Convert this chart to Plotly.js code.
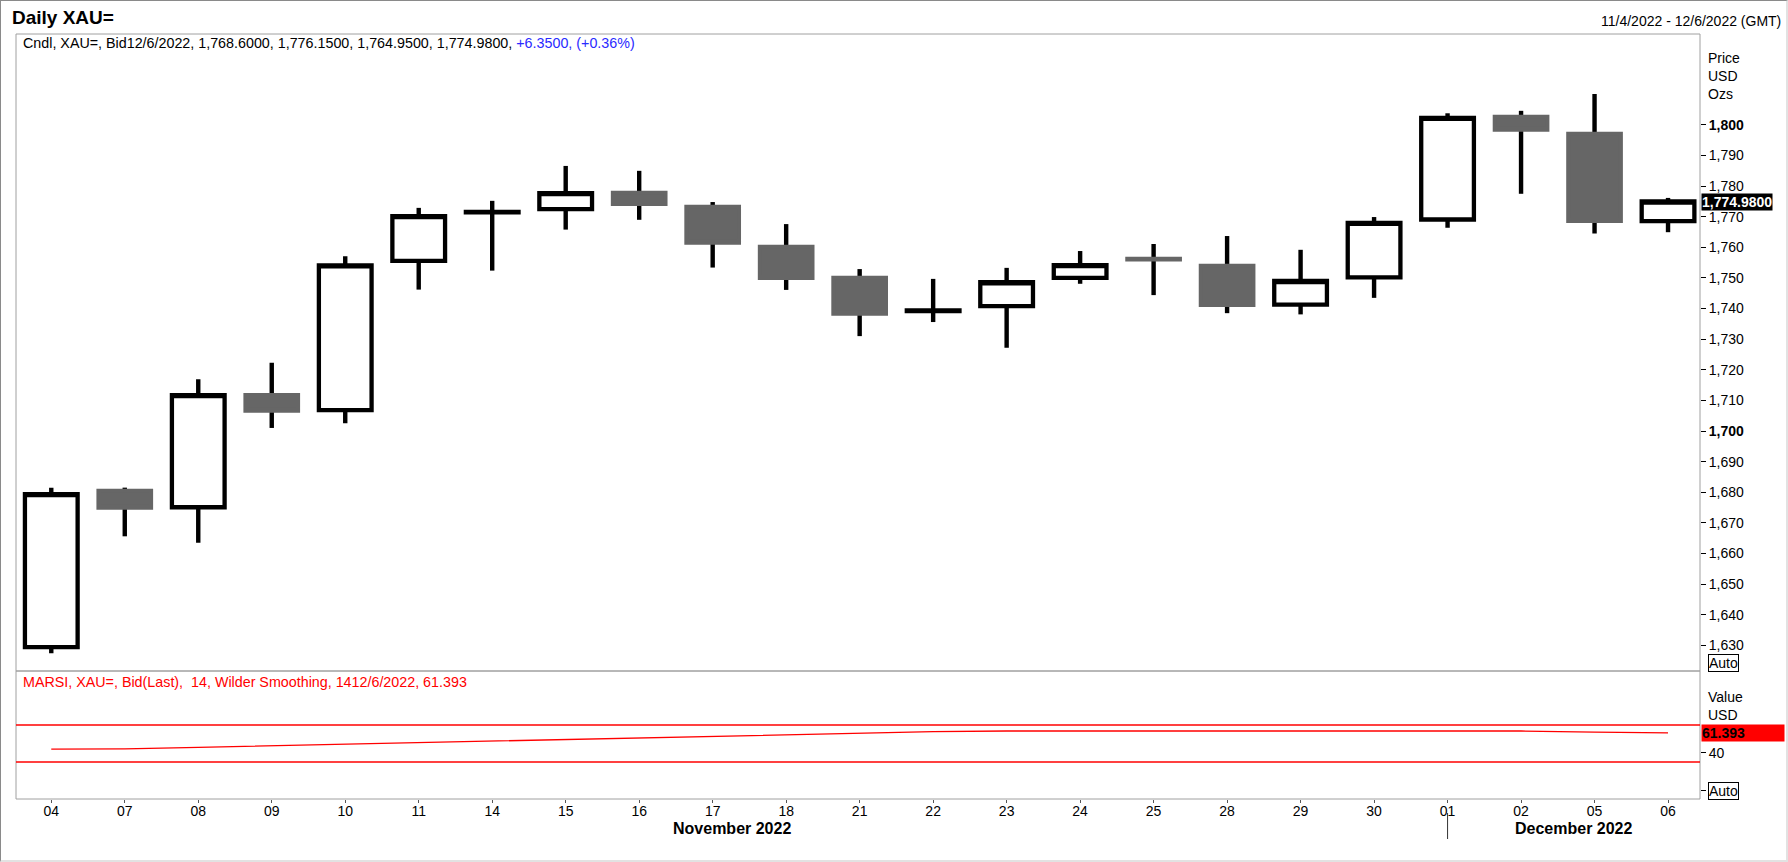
<!DOCTYPE html>
<html>
<head>
<meta charset="utf-8">
<script src="https://cdn.plot.ly/plotly-3.0.1.min.js"></script>
<style>
  html, body { margin: 0; padding: 0; background: #fff; }
  #wrap { position: relative; width: 1788px; height: 862px; }
  #chart { position: absolute; left: 0; top: 0; width: 1788px; height: 862px; }
  #frame { position: absolute; left: 0; top: 0; width: 1788px; height: 862px; box-sizing: border-box;
           border-top: 1px solid #8a8a8a; border-left: 1px solid #8a8a8a;
           border-right: 2px solid #e2e2e2; border-bottom: 2px solid #e2e2e2; pointer-events: none; }
</style>
</head>
<body>
<div id="wrap"><div id="chart"></div><div id="frame"></div></div>
<script>
// ---------- data ----------
const dates = ['2022-11-04','2022-11-07','2022-11-08','2022-11-09','2022-11-10','2022-11-11','2022-11-14',
  '2022-11-15','2022-11-16','2022-11-17','2022-11-18','2022-11-21','2022-11-22','2022-11-23','2022-11-24',
  '2022-11-25','2022-11-28','2022-11-29','2022-11-30','2022-12-01','2022-12-02','2022-12-05','2022-12-06'];
const dayLabels = ['04','07','08','09','10','11','14','15','16','17','18','21','22','23','24','25','28','29','30','01','02','05','06'];
const openP  = [1629.4, 1680.5, 1675.1, 1711.8, 1706.8, 1755.6, 1771.4, 1772.5, 1777.8, 1773.3, 1760.2, 1750.1,
  1739.2, 1740.8, 1750.0, 1756.3, 1754.0, 1741.3, 1750.2, 1769.1, 1802.7, 1797.1, 1768.60];
const highP  = [1681.5, 1681.5, 1716.9, 1722.3, 1757.1, 1772.9, 1775.2, 1786.6, 1785.0, 1774.8, 1767.6, 1752.9,
  1749.7, 1753.3, 1758.8, 1761.1, 1763.7, 1759.2, 1769.9, 1803.8, 1804.6, 1810.1, 1776.15];
const lowP   = [1627.4, 1665.6, 1663.5, 1701.0, 1702.5, 1746.2, 1752.4, 1765.8, 1769.0, 1753.4, 1746.1, 1731.0,
  1735.6, 1727.2, 1748.1, 1744.4, 1738.5, 1738.1, 1743.5, 1766.4, 1777.5, 1764.5, 1764.95];
const closeP = [1679.4, 1674.9, 1711.7, 1706.6, 1754.1, 1770.2, 1771.6, 1777.7, 1774.2, 1761.5, 1750.0, 1738.3,
  1739.4, 1748.6, 1754.2, 1756.0, 1741.2, 1749.0, 1768.0, 1802.3, 1798.4, 1768.63, 1774.98];
const rsiVals = [44.0, 44.2, 45.8, 47.5, 49.2, 50.9, 52.6, 54.3, 56.0, 57.7, 59.4, 61.1, 62.8, 63.5, 63.5,
  63.5, 63.5, 63.5, 63.5, 63.5, 63.5, 62.4, 61.393];
const priceTicks = [1630, 1640, 1650, 1660, 1670, 1680, 1690, 1700, 1710, 1720, 1730, 1740, 1750, 1760, 1770, 1780, 1790, 1800];
const priceTickText = ['1,630','1,640','1,650','1,660','1,670','1,680','1,690','<b>1,700</b>','1,710','1,720',
  '1,730','1,740','1,750','1,760','1,770','1,780','1,790','<b>1,800</b>'];
const rsiTicks = [40, -1.1];
const rsiTickText = ['40', ''];
const rsiLevels = [70, 30];
const monthNames = ['November 2022', 'December 2022'];

// ---------- geometry ----------
const W = 1788, H = 862;
const M = {l: 16, r: 88, t: 34, b: 63};
const plotW = W - M.l - M.r, plotH = H - M.t - M.b;
const px = x => (x - M.l) / plotW;
const py = y => (H - M.b - y) / plotH;
const splitY = py(671);
const xRange = [-0.48, dates.length - 1 + 0.435];

function fmt(n, d) {
  const s = Math.abs(n).toFixed(d).split('.');
  s[0] = s[0].replace(/\B(?=(\d{3})+(?!\d))/g, ',');
  return (n < 0 ? '-' : '') + s.join('.');
}
const last = dates.length - 1;
const chg = closeP[last] - closeP[last - 1];
const pct = chg / closeP[last - 1] * 100;
const dParts = dates[last].split('-');
const lastDate = (+dParts[1]) + '/' + (+dParts[2]) + '/' + dParts[0];
const fParts = dates[0].split('-');
const firstDate = (+fParts[1]) + '/' + (+fParts[2]) + '/' + fParts[0];

const bodyHigh = openP.map((o, i) => Math.max(o, closeP[i]));
const bodyLow = openP.map((o, i) => Math.min(o, closeP[i]));
const wickLen = highP.map((h, i) => h - lowP[i]);

const FONT = 'Arial, "Liberation Sans", sans-serif';

const traces = [
  { // wicks (drawn beneath bodies)
    type: 'bar', x: dates, y: wickLen, base: lowP, width: 0.06,
    xaxis: 'x', yaxis: 'y', marker: {color: '#000', line: {width: 0}},
    hoverinfo: 'skip', showlegend: false
  },
  { // bodies
    type: 'candlestick', x: dates, open: openP, high: bodyHigh, low: bodyLow, close: closeP,
    xaxis: 'x', yaxis: 'y', whiskerwidth: 0, showlegend: false, hoverinfo: 'skip',
    increasing: {line: {color: '#000', width: 4.3}, fillcolor: '#ffffff'},
    decreasing: {line: {color: '#666666', width: 4}, fillcolor: '#666666'}
  },
  {
    type: 'scatter', mode: 'lines', x: dates, y: rsiVals, xaxis: 'x', yaxis: 'y2',
    line: {color: '#ff0000', width: 1.3}, showlegend: false, hoverinfo: 'skip'
  }
];

const decIdx = dates.findIndex(d => d.slice(5, 7) === '12');

const shapes = [
  {type: 'rect', xref: 'paper', yref: 'paper', x0: 0, x1: 1, y0: splitY, y1: 1, line: {color: '#a0a0a0', width: 1}},
  {type: 'rect', xref: 'paper', yref: 'paper', x0: 0, x1: 1, y0: 0, y1: splitY, line: {color: '#a0a0a0', width: 1}},
  {type: 'line', xref: 'x', yref: 'paper', x0: decIdx, x1: decIdx, y0: py(813), y1: py(839), line: {color: '#333', width: 1}}
].concat(rsiLevels.map(v => ({type: 'line', xref: 'paper', yref: 'y2', x0: 0, x1: 1, y0: v, y1: v,
  line: {color: '#ff0000', width: 1.3}})));

const ann = (o) => Object.assign({showarrow: false, xref: 'paper', yref: 'paper', yanchor: 'middle',
  font: {family: FONT, size: 14, color: '#000'}}, o);

const annotations = [
  ann({x: px(10), y: py(17), xanchor: 'left', text: '<b>Daily XAU=</b>', font: {family: FONT, size: 19, color: '#000'}}),
  ann({x: px(1783), y: py(21), xanchor: 'right', text: firstDate + ' - ' + lastDate + ' (GMT)'}),
  ann({x: px(21), y: py(43), xanchor: 'left', font: {family: FONT, size: 14.3, color: '#000'},
    text: 'Cndl, XAU=, Bid' + lastDate + ', ' + fmt(openP[last], 4) + ', ' + fmt(highP[last], 4) + ', ' +
      fmt(lowP[last], 4) + ', ' + fmt(closeP[last], 4) + ', <span style="color:#2a2aff">' +
      (chg >= 0 ? '+' : '') + fmt(chg, 4) + ', (' + (pct >= 0 ? '+' : '') + pct.toFixed(2) + '%)</span>'}),
  ann({x: px(21), y: py(682), xanchor: 'left', font: {family: FONT, size: 14.3, color: '#ff0000'},
    text: 'MARSI, XAU=, Bid(Last),  14, Wilder Smoothing, 14' + lastDate + ', ' + rsiVals[last].toFixed(3)}),
  ann({x: px(1706), y: py(58), xanchor: 'left', text: 'Price'}),
  ann({x: px(1706), y: py(76), xanchor: 'left', text: 'USD'}),
  ann({x: px(1706), y: py(94), xanchor: 'left', text: 'Ozs'}),
  ann({x: px(1706), y: py(697), xanchor: 'left', text: 'Value'}),
  ann({x: px(1706), y: py(715), xanchor: 'left', text: 'USD'}),
  ann({x: px(1708), y: py(663), xanchor: 'left', text: 'Auto', bordercolor: '#000', borderwidth: 1, borderpad: 0}),
  ann({x: px(1708), y: -1.1, yref: 'y2', xanchor: 'left', text: 'Auto', bordercolor: '#000', borderwidth: 1, borderpad: 0}),
  ann({x: px(1701), y: closeP[last], yref: 'y', xanchor: 'left', text: '<b>' + fmt(closeP[last], 4) + '</b>',
    bgcolor: '#000', borderpad: 0, font: {family: FONT, size: 14, color: '#fff'}}),
  ann({x: px(1701), y: rsiVals[last], yref: 'y2', xanchor: 'left', align: 'left', width: 82,
    text: '<b>' + rsiVals[last].toFixed(3) + '</b>', bgcolor: '#ff0000', borderpad: 0,
    font: {family: FONT, size: 14, color: '#000'}}),
  ann({xref: 'x', x: (xRange[0] + decIdx) / 2, y: py(828), xanchor: 'center', text: '<b>' + monthNames[0] + '</b>',
    font: {family: FONT, size: 16, color: '#000'}}),
  ann({xref: 'x', x: (decIdx + xRange[1]) / 2, y: py(828), xanchor: 'center', text: '<b>' + monthNames[1] + '</b>',
    font: {family: FONT, size: 16, color: '#000'}})
];

const layout = {
  width: W, height: H, margin: M,
  paper_bgcolor: '#fff', plot_bgcolor: '#fff',
  showlegend: false, dragmode: false, boxgap: 0.283, boxgroupgap: 0, barmode: 'overlay',
  font: {family: FONT, size: 14, color: '#000'},
  xaxis: {
    type: 'category', range: xRange, anchor: 'y2', rangeslider: {visible: false},
    tickmode: 'array', tickvals: dates, ticktext: dayLabels, ticks: 'outside', ticklen: 3, tickcolor: '#555',
    ticklabelstandoff: -4,
    tickfont: {family: FONT, size: 14, color: '#000'}, showgrid: false, zeroline: false, showline: false,
    fixedrange: true
  },
  yaxis: {
    domain: [splitY, 1], range: [1621.6, 1829.7], side: 'right', anchor: 'x',
    tickmode: 'array', tickvals: priceTicks, ticktext: priceTickText, ticks: 'outside', ticklen: 5, tickcolor: '#000',
    tickfont: {family: FONT, size: 14, color: '#000'}, showgrid: false, zeroline: false, showline: false, fixedrange: true
  },
  yaxis2: {
    domain: [0, splitY], range: [-10, 128.4], side: 'right', anchor: 'x',
    tickmode: 'array', tickvals: rsiTicks, ticktext: rsiTickText, ticks: 'outside', ticklen: 5, tickcolor: '#000',
    tickfont: {family: FONT, size: 14, color: '#000'}, showgrid: false, zeroline: false, showline: false, fixedrange: true
  },
  shapes: shapes,
  annotations: annotations
};

Plotly.newPlot('chart', traces, layout, {displayModeBar: false, staticPlot: true});
</script>
</body>
</html>
